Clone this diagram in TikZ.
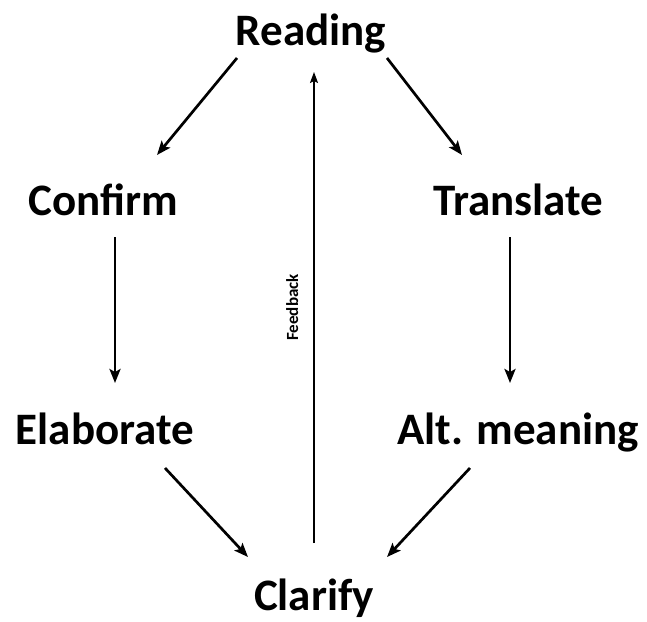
\documentclass[tikz,border=0pt]{standalone}
\usepackage{fontspec}
\setmainfont{Carlito}
\usepackage{tikz}
\usetikzlibrary{positioning,arrows.meta,calc}

\tikzset{
  word/.style={font=\fontsize{45}{54}\selectfont\bfseries, anchor=base, inner sep=0pt},
  arr/.style={-{Stealth[length=14pt,width=11pt,inset=3pt]}, line width=2.7pt},
  fb/.style={-{Stealth[length=11pt,width=8pt,inset=2pt]}, line width=1.7pt}
}

\begin{document}
\begin{tikzpicture}[x=1pt,y=-1pt]
    \useasboundingbox (0,0) rectangle (647,621);

    \node[word] (reading) at (311,45) {Reading};
    \node[word] (confirm) at (103,215) {Confirm};
    \node[word] (translate) at (518,215) {Translate};
    \node[word] (elaborate) at (105,444) {Elaborate};
    \node[word] (altmeaning) at (518,444) {Alt. meaning};
    \node[word] (clarify) at (314,610) {Clarify};

    % left branch
    \draw[arr] ($(reading.base)+(-74,13)$) -- ($(confirm.base)+(54,-60)$);
    \draw[arr] ($(confirm.base)+(12,22)$) -- ($(elaborate.base)+(10,-61)$);
    \draw[arr] ($(elaborate.base)+(60,24)$) -- ($(clarify.base)+(-66,-53)$);

    % right branch
    \draw[arr] ($(reading.base)+(76,13)$) -- ($(translate.base)+(-56,-60)$);
    \draw[arr] ($(translate.base)+(-8,22)$) -- ($(altmeaning.base)+(-8,-61)$);
    \draw[arr] ($(altmeaning.base)+(-48,24)$) -- ($(clarify.base)+(73,-53)$);

    % feedback
    \draw[fb] ($(clarify.base)+(0,-67)$) -- node[midway, sloped, above=15pt, inner sep=0pt,
        font=\fontsize{17}{20}\selectfont\bfseries] (feedback) {Feedback} ($(reading.base)+(3,27)$);
\end{tikzpicture}
\end{document}
